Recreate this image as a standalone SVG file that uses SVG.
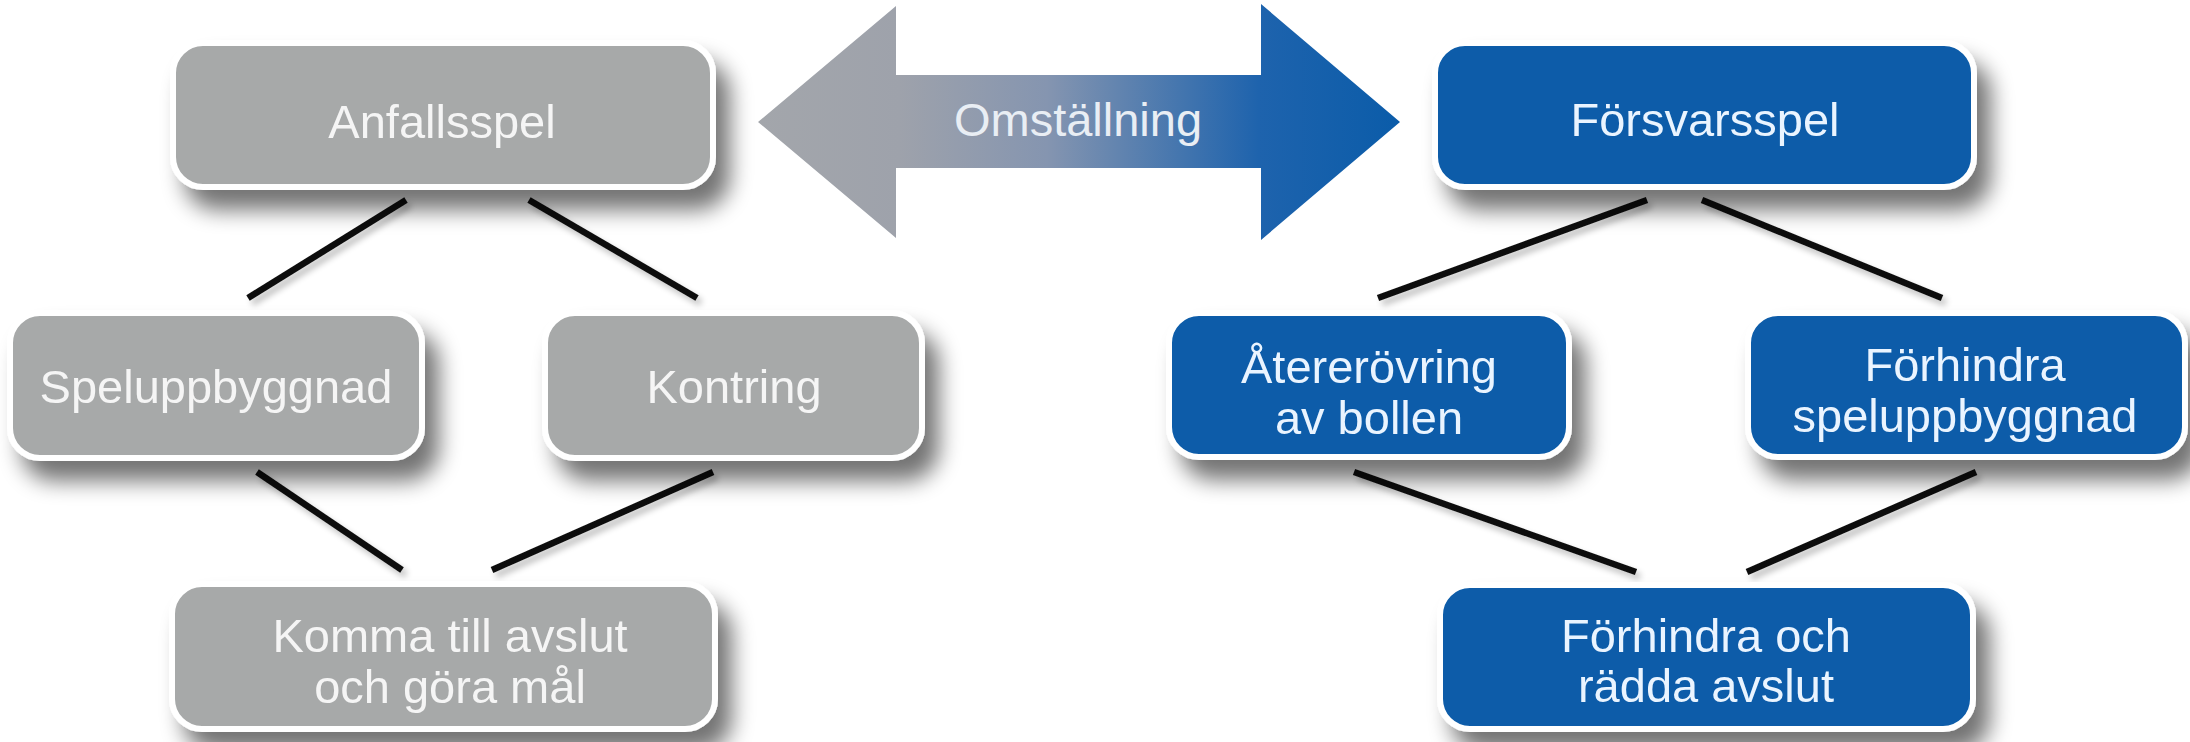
<svg xmlns="http://www.w3.org/2000/svg" width="2190" height="742" viewBox="0 0 2190 742">
<defs>
<filter id="sh" x="-10%" y="-20%" width="130%" height="160%">
<feGaussianBlur in="SourceAlpha" stdDeviation="11"/>
<feOffset dx="14" dy="20" result="b"/>
<feComponentTransfer><feFuncA type="linear" slope="0.55"/></feComponentTransfer>
<feMerge><feMergeNode/><feMergeNode in="SourceGraphic"/></feMerge>
</filter>
<filter id="lsh" x="-10%" y="-10%" width="130%" height="130%">
<feGaussianBlur in="SourceAlpha" stdDeviation="3"/>
<feOffset dx="4" dy="5"/>
<feComponentTransfer><feFuncA type="linear" slope="0.25"/></feComponentTransfer>
<feMerge><feMergeNode/><feMergeNode in="SourceGraphic"/></feMerge>
</filter>
<linearGradient id="ag" gradientUnits="userSpaceOnUse" x1="758" y1="0" x2="1400" y2="0">
<stop offset="0" stop-color="#a3a6ab"/>
<stop offset="0.22" stop-color="#9ea2ab"/>
<stop offset="0.45" stop-color="#8595b0"/>
<stop offset="0.78" stop-color="#1e63ad"/>
<stop offset="1" stop-color="#0b5ca9"/>
</linearGradient>
<style>
.g{fill:#a7a9a9;stroke:#ffffff;stroke-width:6}
.b{fill:#0b5ca9;stroke:#ffffff;stroke-width:6}
.t{font-family:"Liberation Sans",Arial,sans-serif;font-size:47px;text-anchor:middle}
.tg{fill:#f5f5f5}
.tb{fill:#eaf4ff}
.c{stroke:#111111;stroke-width:6.5;stroke-linecap:butt;fill:none}
</style>
</defs>
<rect width="2190" height="742" fill="#ffffff"/>

<g id="connectors" filter="url(#lsh)">
<line class="c" x1="406" y1="200" x2="248" y2="298"/>
<line class="c" x1="529" y1="200" x2="697" y2="298"/>
<line class="c" x1="257" y1="472" x2="402" y2="570"/>
<line class="c" x1="713" y1="472" x2="492" y2="570"/>
<line class="c" x1="1647" y1="200" x2="1378" y2="298"/>
<line class="c" x1="1702" y1="200" x2="1942" y2="298"/>
<line class="c" x1="1354" y1="472" x2="1636" y2="572"/>
<line class="c" x1="1976" y1="472" x2="1747" y2="572"/>
</g>

<g id="omstallning">
<polygon points="758,122 896,6 896,75 1261,75 1261,4 1400,122 1261,240 1261,168 896,168 896,238" fill="url(#ag)"/>
<text class="t" x="1078" y="136" fill="#e9eef4">Omställning</text>
</g>

<g id="anfallsspel" filter="url(#sh)">
<rect class="g" x="173" y="43" width="540" height="144" rx="30"/>
<text class="t tg" x="442" y="138">Anfallsspel</text>
</g>

<g id="speluppbyggnad" filter="url(#sh)">
<rect class="g" x="10" y="313" width="412" height="145" rx="30"/>
<text class="t tg" x="216" y="403">Speluppbyggnad</text>
</g>

<g id="kontring" filter="url(#sh)">
<rect class="g" x="545" y="313" width="377" height="145" rx="30"/>
<text class="t tg" x="734" y="403">Kontring</text>
</g>

<g id="komma" filter="url(#sh)">
<rect class="g" x="172" y="584" width="543" height="145" rx="30"/>
<text class="t tg" x="450" y="652">Komma till avslut</text>
<text class="t tg" x="450" y="703">och göra mål</text>
</g>

<g id="forsvarsspel" filter="url(#sh)">
<rect class="b" x="1435" y="43" width="539" height="144" rx="30"/>
<text class="t tb" x="1705" y="136">Försvarsspel</text>
</g>

<g id="atererovring" filter="url(#sh)">
<rect class="b" x="1169" y="313" width="400" height="144" rx="30"/>
<text class="t tb" x="1369" y="383">Återerövring</text>
<text class="t tb" x="1369" y="434">av bollen</text>
</g>

<g id="forhindra-spel" filter="url(#sh)">
<rect class="b" x="1748" y="313" width="437" height="144" rx="30"/>
<text class="t tb" x="1965" y="381">Förhindra</text>
<text class="t tb" x="1965" y="432">speluppbyggnad</text>
</g>

<g id="forhindra-avslut" filter="url(#sh)">
<rect class="b" x="1440" y="585" width="533" height="144" rx="30"/>
<text class="t tb" x="1706" y="652">Förhindra och</text>
<text class="t tb" x="1706" y="702">rädda avslut</text>
</g>
</svg>
